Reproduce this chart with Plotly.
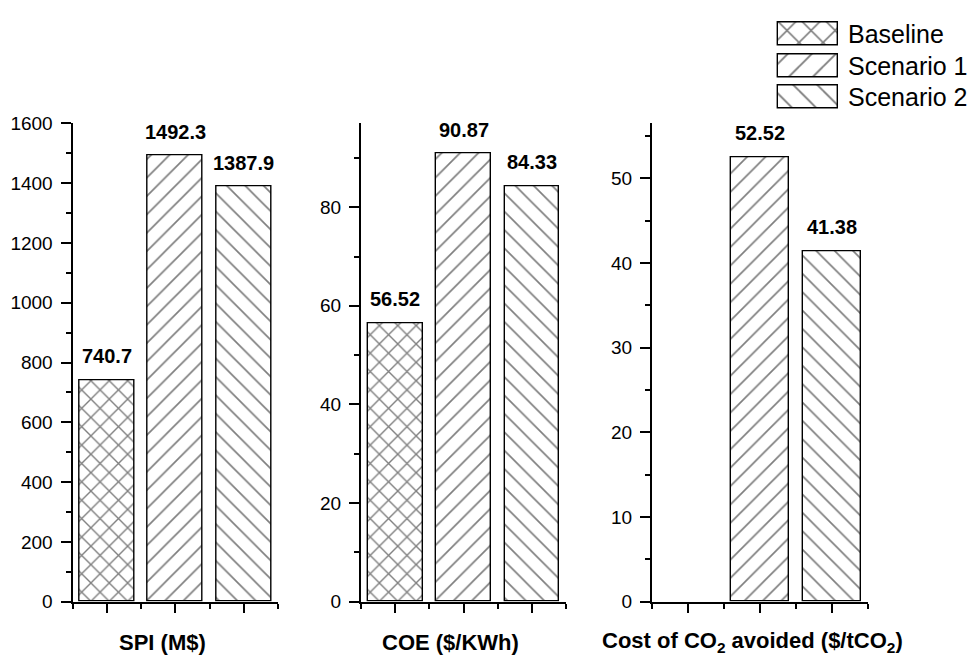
import plotly.graph_objects as go

# ---- data -------------------------------------------------------------
metrics = ["SPI (M$)", "COE ($/KWh)", "Cost of CO<sub>2</sub> avoided ($/tCO<sub>2</sub>)"]
series_names = ["Baseline", "Scenario 1", "Scenario 2"]
baseline = [740.7, 56.52, None]
scenario1 = [1492.3, 90.87, 52.52]
scenario2 = [1387.9, 84.33, 41.38]
decimals = [1, 2, 2]

y_max = [1600, 97, 56.5]
y_dtick = [200, 20, 10]

# ---- styling ----------------------------------------------------------
FONT = "Liberation Sans, Arial, sans-serif"
W, H = 978, 668
patterns = ["x", "/", "\\"]
solidities = [0.2, 0.13, 0.13]

# plot areas in pixels (left, right) and common vertical extent
panel_px = [(72.5, 278), (361, 566), (652, 868)]
top_px, bottom_px = 117, 611


def px_x(v):
    return v / W


def px_y(v):
    return 1 - v / H


fig = go.Figure()
series_values = [baseline, scenario1, scenario2]

for p in range(3):
    xa = "x" if p == 0 else f"x{p + 1}"
    ya = "y" if p == 0 else f"y{p + 1}"
    for s, vals in enumerate(series_values):
        v = vals[p]
        if v is None:
            continue
        fig.add_trace(go.Bar(
            x=[s], y=[v], width=0.8, xaxis=xa, yaxis=ya,
            name=series_names[s], showlegend=False,
            marker=dict(
                color="white",
                line=dict(color="black", width=1.4),
                pattern=dict(shape=patterns[s], size=13,
                             solidity=solidities[s],
                             fgcolor="black", bgcolor="white"),
            ),
        ))
        fig.add_annotation(
            x=s, y=v, xref=xa, yref=ya, showarrow=False,
            text=f"<b>{v:.{decimals[p]}f}</b>",
            yanchor="middle", yshift=24,
            font=dict(family=FONT, size=20, color="black"),
        )

    ax_common = dict(showline=True, linecolor="black", linewidth=2,
                     showgrid=False, zeroline=False, ticks="outside",
                     tickcolor="black", tickwidth=2)
    xkey = "xaxis" if p == 0 else f"xaxis{p + 1}"
    ykey = "yaxis" if p == 0 else f"yaxis{p + 1}"
    fig.update_layout(**{
        xkey: dict(
            ax_common, domain=[px_x(panel_px[p][0]), px_x(panel_px[p][1])],
            anchor=ya, range=[-0.5, 2.5], tickmode="array",
            tickvals=[0, 1, 2], showticklabels=False, ticklen=9,
            minor=dict(tickmode="array", tickvals=[-0.5, 0.5, 1.5, 2.5],
                       ticks="outside", ticklen=5, tickwidth=2,
                       tickcolor="black"),
        ),
        ykey: dict(
            ax_common, domain=[px_y(bottom_px), px_y(top_px)], anchor=xa,
            range=[0, y_max[p]], tick0=0, dtick=y_dtick[p], ticklen=10,
            ticklabelstandoff=4,
            tickfont=dict(family=FONT, size=19, color="black"),
            minor=dict(tick0=0, dtick=y_dtick[p] / 2, ticks="outside",
                       ticklen=5, tickwidth=2, tickcolor="black"),
        ),
    })

# category titles under each panel
title_x = [162, 450, 752]
for p, label in enumerate(metrics):
    fig.add_annotation(
        x=px_x(title_x[p]), y=px_y(653), xref="paper", yref="paper",
        text=f"<b>{label}</b>", showarrow=False,
        xanchor="center", yanchor="middle",
        font=dict(family=FONT, size=22, color="black"),
    )

# pattern key in the top-right corner
fig.add_trace(go.Bar(
    x=[1, 1, 1], y=[0, 1, 2], base=0, orientation="h", width=0.74,
    xaxis="x4", yaxis="y4", showlegend=False, hoverinfo="skip",
    marker=dict(
        color="white",
        line=dict(color="black", width=1.4),
        pattern=dict(shape=patterns, size=17, solidity=[0.18, 0.11, 0.11],
                     fgcolor="black", bgcolor="white"),
    ),
))
for k, name in enumerate(series_names):
    fig.add_annotation(
        x=1, y=k, xref="x4", yref="y4", showarrow=False,
        text=name, xanchor="left", yanchor="middle", xshift=8,
        font=dict(family=FONT, size=25, color="black"),
    )

fig.update_layout(
    xaxis4=dict(domain=[px_x(775), px_x(841)], range=[-0.05, 1.05],
                visible=False, anchor="y4"),
    yaxis4=dict(domain=[px_y(106.25), px_y(8.75)], range=[2.5, -0.5],
                visible=False, anchor="x4"),
    width=W, height=H,
    margin=dict(l=0, r=0, t=0, b=0),
    paper_bgcolor="white", plot_bgcolor="white",
    showlegend=False, bargap=0,
    font=dict(family=FONT, color="black"),
)

fig.write_html("out.html")
